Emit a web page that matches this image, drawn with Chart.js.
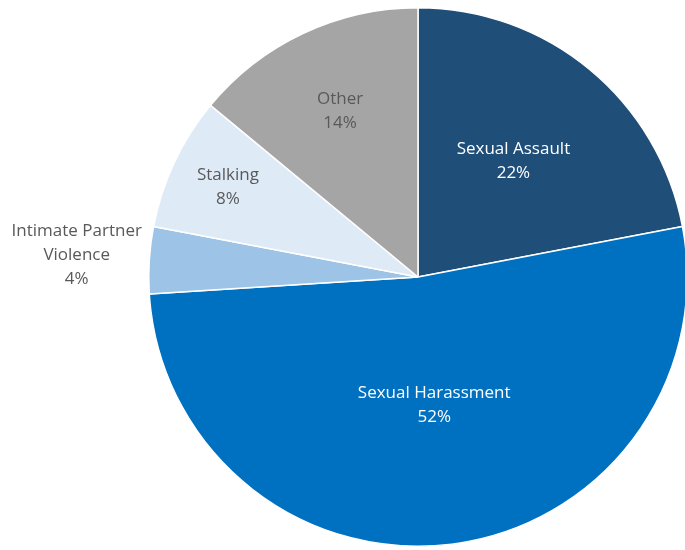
<!DOCTYPE html>
<html>
<head>
<meta charset="utf-8">
<script src="https://cdn.jsdelivr.net/npm/chart.js@4.4.1/dist/chart.umd.min.js"></script>
<style>
  html, body { margin: 0; padding: 0; background: #fff; overflow: hidden; }
  #wrap { position: absolute; left: 0; top: 0; width: 836px; height: 550px; }
</style>
</head>
<body>
<div id="wrap"><canvas id="pie"></canvas></div>
<script>
const categories = ['Sexual Assault', 'Sexual Harassment', 'Intimate Partner Violence', 'Stalking', 'Other'];
const shares = [22, 52, 4, 8, 14];
const sliceColors = ['#1f4e79', '#0070c0', '#9dc3e6', '#deebf7', '#a5a5a5'];

// label placement: fraction of radius, lines, text colour
const labelSpots = [0.556, 0.48, 1.27, 0.78, 0.68];
const labelLines = [['Sexual Assault'], ['Sexual Harassment'], ['Intimate Partner', 'Violence'], ['Stalking'], ['Other']];
const labelColors = ['#ffffff', '#ffffff', '#595959', '#595959', '#595959'];

const sliceLabels = {
  id: 'sliceLabels',
  afterDatasetsDraw(chart) {
    const ctx = chart.ctx;
    const meta = chart.getDatasetMeta(0);
    ctx.save();
    ctx.font = '17px "Open Sans", sans-serif';
    ctx.textAlign = 'center';
    ctx.textBaseline = 'middle';
    meta.data.forEach((arc, i) => {
      const p = arc.getProps(['x', 'y', 'startAngle', 'endAngle', 'outerRadius'], true);
      const mid = (p.startAngle + p.endAngle) / 2;
      const r = p.outerRadius * labelSpots[i];
      const cx = p.x + Math.cos(mid) * r;
      const cy = p.y + Math.sin(mid) * r;
      const lines = labelLines[i].concat([shares[i] + '%']);
      const lh = 24;
      const top = cy - (lines.length - 1) * lh / 2;
      ctx.fillStyle = labelColors[i];
      lines.forEach((t, k) => ctx.fillText(t, cx, top + k * lh));
    });
    ctx.restore();
  }
};

new Chart(document.getElementById('pie'), {
  type: 'pie',
  data: {
    labels: categories,
    datasets: [{
      data: shares,
      backgroundColor: sliceColors,
      borderColor: '#ffffff',
      borderWidth: 1.5
    }]
  },
  options: {
    responsive: true,
    maintainAspectRatio: false,
    animation: false,
    layout: { padding: { top: 7, bottom: 3 } },
    plugins: {
      legend: { display: false },
      tooltip: { enabled: false }
    }
  },
  plugins: [sliceLabels]
});
</script>
</body>
</html>
